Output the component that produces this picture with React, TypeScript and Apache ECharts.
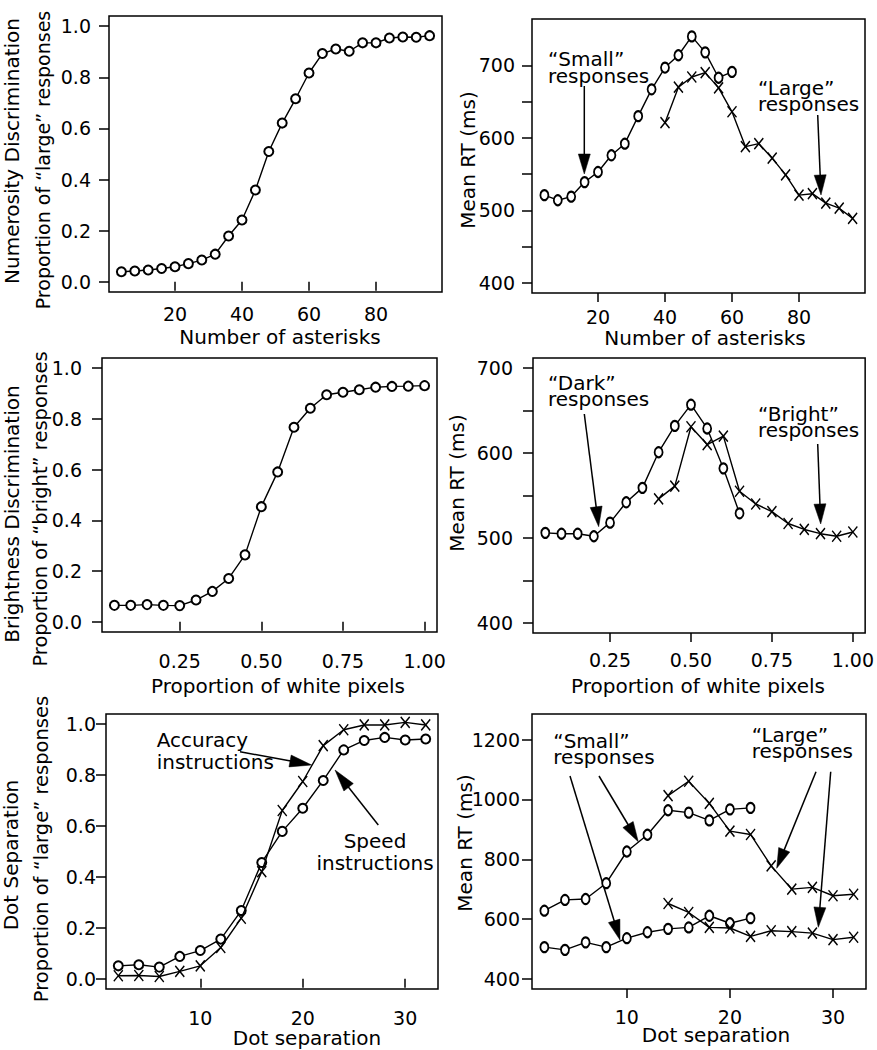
import React, { useEffect, useRef } from "react";
import * as echarts from "echarts";

// ---------- Data ----------
// Panel 1: numerosity, proportion "large"
const asteriskX = [4, 8, 12, 16, 20, 24, 28, 32, 36, 40, 44, 48, 52, 56, 60, 64, 68, 72, 76, 80, 84, 88, 92, 96];
const numPropLarge = [0.039, 0.042, 0.046, 0.052, 0.059, 0.071, 0.085, 0.108, 0.179, 0.242, 0.359, 0.51, 0.621, 0.716, 0.817, 0.893, 0.911, 0.902, 0.935, 0.935, 0.954, 0.958, 0.957, 0.963];
// Panel 2: numerosity RT
const numSmallX = [4, 8, 12, 16, 20, 24, 28, 32, 36, 40, 44, 48, 52, 56, 60];
const numSmallRT = [521, 514, 519, 539, 553, 576, 592, 630, 667, 697, 714, 740, 718, 683, 691];
const numLargeX = [40, 44, 48, 52, 56, 60, 64, 68, 72, 76, 80, 84, 88, 92, 96];
const numLargeRT = [621, 670, 684, 690, 669, 636, 588, 592, 572, 549, 521, 523, 510, 503, 489];
// Panel 3: brightness, proportion "bright"
const whiteX = [0.05, 0.1, 0.15, 0.2, 0.25, 0.3, 0.35, 0.4, 0.45, 0.5, 0.55, 0.6, 0.65, 0.7, 0.75, 0.8, 0.85, 0.9, 0.95, 1.0];
const brightProp = [0.065, 0.065, 0.068, 0.065, 0.064, 0.086, 0.12, 0.171, 0.264, 0.454, 0.591, 0.767, 0.842, 0.895, 0.905, 0.915, 0.925, 0.928, 0.929, 0.931];
// Panel 4: brightness RT
const darkX = [0.05, 0.1, 0.15, 0.2, 0.25, 0.3, 0.35, 0.4, 0.45, 0.5, 0.55, 0.6, 0.65];
const darkRT = [506, 505, 505, 502, 518, 542, 559, 601, 632, 657, 629, 582, 529];
const brightX = [0.4, 0.45, 0.5, 0.55, 0.6, 0.65, 0.7, 0.75, 0.8, 0.85, 0.9, 0.95, 1.0];
const brightRT = [546, 561, 631, 610, 620, 555, 540, 531, 517, 510, 505, 502, 507];
// Panel 5: dot separation, proportion "large"
const dotX = [2, 4, 6, 8, 10, 12, 14, 16, 18, 20, 22, 24, 26, 28, 30, 32];
const speedProp = [0.051, 0.055, 0.046, 0.088, 0.111, 0.156, 0.268, 0.457, 0.579, 0.67, 0.779, 0.899, 0.936, 0.948, 0.938, 0.942];
const accuracyProp = [0.012, 0.013, 0.009, 0.029, 0.051, 0.123, 0.238, 0.421, 0.661, 0.775, 0.916, 0.978, 0.997, 0.997, 1.007, 0.997];
// Panel 6: dot separation RT
const dotSmallX = [2, 4, 6, 8, 10, 12, 14, 16, 18, 20, 22];
const dotSmallAccRT = [628, 664, 667, 720, 826, 882, 964, 956, 930, 967, 972];
const dotSmallSpeedRT = [506, 497, 522, 506, 536, 556, 567, 572, 611, 586, 603];
const dotLargeX = [14, 16, 18, 20, 22, 24, 26, 28, 30, 32];
const dotLargeAccRT = [1013, 1061, 987, 894, 883, 778, 700, 706, 678, 683];
const dotLargeSpeedRT = [652, 622, 572, 570, 542, 561, 558, 553, 531, 539];

// Tick values
const ticksAsterisk = [20, 40, 60, 80];
const ticksProp = [0, 0.2, 0.4, 0.6, 0.8, 1.0];
const ticksWhite = [0.25, 0.5, 0.75, 1.0];
const ticksDot = [10, 20, 30];
const ticksRT1 = [400, 450, 500, 550, 600, 650, 700];
const labelsRT1 = [400, 500, 600, 700];
const ticksRT3 = [400, 600, 800, 1000, 1200];

const FONT = "DejaVu Sans";
const X_SYM = "path://M0,0L8,10M8,0L0,10";

function pairs(xs: number[], ys: number[]) {
  return xs.map((x, i) => [x, ys[i]]);
}

function arrow(x1: number, y1: number, x2: number, y2: number, hl = 20, hw = 12) {
  const dx = x2 - x1, dy = y2 - y1;
  const L = Math.hypot(dx, dy);
  const ux = dx / L, uy = dy / L;
  const bx = x2 - ux * hl, by = y2 - uy * hl;
  const px = (-uy * hw) / 2, py = (ux * hw) / 2;
  return [
    { type: "line", shape: { x1, y1, x2: bx + ux * 2, y2: by + uy * 2 }, style: { stroke: "#000", lineWidth: 1.5 } },
    { type: "polygon", shape: { points: [[x2, y2], [bx + px, by + py], [bx - px, by - py]] }, style: { fill: "#000", stroke: "#000", lineWidth: 0.5 } },
  ];
}

function txt(text: string, x: number, y: number, align = "left", rot = 0, size = 20, lh = 16.5) {
  return {
    type: "text",
    x,
    y,
    rotation: rot,
    style: {
      text,
      fill: "#000",
      font: `${size}px '${FONT}'`,
      textAlign: align,
      textVerticalAlign: "middle",
      lineHeight: lh,
    },
  };
}

export default function App() {
  const ref = useRef<HTMLDivElement>(null);
  useEffect(() => {
    if (!ref.current) return;
    const chart = echarts.init(ref.current, undefined, { renderer: "svg" });

    const grids = [
      { left: 109, top: 16, width: 333, height: 276 },
      { left: 532, top: 19, width: 333, height: 274 },
      { left: 102, top: 358, width: 335, height: 274 },
      { left: 533, top: 358, width: 335, height: 275 },
      { left: 106, top: 714, width: 332, height: 275 },
      { left: 532, top: 714, width: 334, height: 275 },
    ].map((g) => ({ ...g, show: true, borderColor: "#000", borderWidth: 1.5, backgroundColor: "transparent" }));

    const axisCommon = (extra: any) => ({
      type: "value",
      axisLine: { show: false },
      splitLine: { show: false },
      ...extra,
    });
    const tick = (vals: number[], len = 9) => ({
      show: true,
      length: len,
      customValues: vals,
      lineStyle: { color: "#000", width: 1.5 },
    });
    const lab = (vals: number[], margin: number, fmt: (v: number) => string = (v) => String(v)) => ({
      customValues: vals,
      margin,
      color: "#000",
      fontFamily: FONT,
      fontSize: 19,
      formatter: (v: number) => fmt(v),
    });
    const f1 = (v: number) => v.toFixed(1);
    const f2 = (v: number) => v.toFixed(2);

    const xAxis = [
      axisCommon({ gridIndex: 0, min: 0.3, max: 99.7, axisTick: tick(ticksAsterisk), axisLabel: lab(ticksAsterisk, 12) }),
      axisCommon({ gridIndex: 1, min: 0.3, max: 99.7, axisTick: tick(ticksAsterisk), axisLabel: lab(ticksAsterisk, 14) }),
      axisCommon({ gridIndex: 2, min: 0.012, max: 1.038, axisTick: tick(ticksWhite), axisLabel: lab(ticksWhite, 19, f2) }),
      axisCommon({ gridIndex: 3, min: 0.012, max: 1.038, axisTick: tick(ticksWhite), axisLabel: lab(ticksWhite, 17, f2) }),
      axisCommon({ gridIndex: 4, min: 0.8, max: 33.2, axisTick: tick(ticksDot), axisLabel: lab(ticksDot, 19) }),
      axisCommon({ gridIndex: 5, min: 0.8, max: 33.2, axisTick: tick(ticksDot), axisLabel: lab(ticksDot, 18) }),
    ];
    const yAxis = [
      axisCommon({ gridIndex: 0, min: -0.04, max: 1.04, axisTick: tick(ticksProp, 10), axisLabel: lab(ticksProp, 18, f1) }),
      axisCommon({ gridIndex: 1, min: 386, max: 764, axisTick: tick(ticksRT1, 10), axisLabel: lab(labelsRT1, 17) }),
      axisCommon({ gridIndex: 2, min: -0.04, max: 1.04, axisTick: tick(ticksProp, 10), axisLabel: lab(ticksProp, 20, f1) }),
      axisCommon({ gridIndex: 3, min: 388, max: 712, axisTick: tick(ticksRT1, 10), axisLabel: lab(labelsRT1, 20) }),
      axisCommon({ gridIndex: 4, min: -0.04, max: 1.04, axisTick: tick(ticksProp, 10), axisLabel: lab(ticksProp, 10, f1) }),
      axisCommon({ gridIndex: 5, min: 366, max: 1286, axisTick: tick(ticksRT3, 10), axisLabel: lab(ticksRT3, 12) }),
    ];

    const circ = (i: number, xs: number[], ys: number[], size: any = 9) => ({
      type: "line",
      xAxisIndex: i,
      yAxisIndex: i,
      data: pairs(xs, ys),
      symbol: "emptyCircle",
      symbolSize: size,
      showAllSymbol: true,
      lineStyle: { color: "#000", width: 1.4 },
      itemStyle: { color: "#000", borderColor: "#000", borderWidth: 1.4 },
      z: 3,
    });
    const cross = (i: number, xs: number[], ys: number[]) => ({
      type: "line",
      xAxisIndex: i,
      yAxisIndex: i,
      data: pairs(xs, ys),
      symbol: X_SYM,
      symbolSize: [9, 11],
      showAllSymbol: true,
      lineStyle: { color: "#000", width: 1.4 },
      itemStyle: { color: "#000", borderColor: "#000", borderWidth: 1.5 },
      z: 4,
    });

    const series = [
      circ(0, asteriskX, numPropLarge),
      circ(1, numSmallX, numSmallRT, [8, 10]),
      cross(1, numLargeX, numLargeRT),
      circ(2, whiteX, brightProp),
      circ(3, darkX, darkRT, [8, 10]),
      cross(3, brightX, brightRT),
      circ(4, dotX, speedProp),
      cross(4, dotX, accuracyProp),
      circ(5, dotSmallX, dotSmallAccRT, [8, 10]),
      circ(5, dotSmallX, dotSmallSpeedRT, [8, 10]),
      cross(5, dotLargeX, dotLargeAccRT),
      cross(5, dotLargeX, dotLargeSpeedRT),
    ];

    const R = Math.PI / 2;
    const graphic: any[] = [
      // axis titles
      txt("Numerosity Discrimination", 12, 151, "center", R),
      txt("Proportion of \u201Clarge\u201D responses", 43, 160, "center", R, 19),
      txt("Number of asterisks", 280, 337, "center"),
      txt("Mean RT (ms)", 468, 160, "center", R),
      txt("Number of asterisks", 705, 338, "center"),
      txt("Brightness Discrimination", 12, 514, "center", R),
      txt("Proportion of \u201Cbright\u201D responses", 40, 509, "center", R, 19.5),
      txt("Proportion of white pixels", 278, 686, "center"),
      txt("Mean RT (ms)", 457, 483, "center", R),
      txt("Proportion of white pixels", 698, 686, "center"),
      txt("Dot Separation", 11, 855, "center", R),
      txt("Proportion of \u201Clarge\u201D responses", 41, 849, "center", R, 19.5),
      txt("Dot separation", 307, 1038, "center"),
      txt("Mean RT (ms)", 465, 843, "center", R),
      txt("Dot separation", 716, 1035, "center"),
      // annotations panel 2
      txt("\u201CSmall\u201D\nresponses", 548, 67.5),
      ...arrow(584.3, 86, 584.3, 174),
      txt("\u201CLarge\u201D\nresponses", 758, 96),
      ...arrow(817.7, 115, 821, 195),
      // panel 4
      txt("\u201CDark\u201D\nresponses", 548, 391),
      ...arrow(584.3, 414, 598.7, 526.7),
      txt("\u201CBright\u201D\nresponses", 758, 422),
      ...arrow(817.7, 444, 820.7, 524),
      // panel 5
      txt("Accuracy\ninstructions", 156.7, 751, "left", 0, 20, 22.5),
      ...arrow(240, 751.7, 311.7, 765, 22),
      txt("Speed\ninstructions", 375, 852, "center", 0, 20, 22),
      ...arrow(378.3, 825, 335, 770, 22),
      // panel 6
      txt("\u201CSmall\u201D\nresponses", 553.3, 749),
      ...arrow(570, 776, 620, 940),
      ...arrow(599, 776, 638.3, 841.7),
      txt("\u201CLarge\u201D\nresponses", 751.7, 743),
      ...arrow(816, 771.7, 776.7, 868.3),
      ...arrow(830.7, 771.7, 818.3, 927.3),
    ];

    chart.setOption({
      animation: false,
      backgroundColor: "#fff",
      textStyle: { fontFamily: FONT },
      grid: grids,
      xAxis,
      yAxis,
      series,
      graphic,
    });
    return () => chart.dispose();
  }, []);

  return (
    <div
      ref={ref}
      style={{ position: "absolute", left: 0, top: 0, width: 877, height: 1050, background: "#fff" }}
    />
  );
}
